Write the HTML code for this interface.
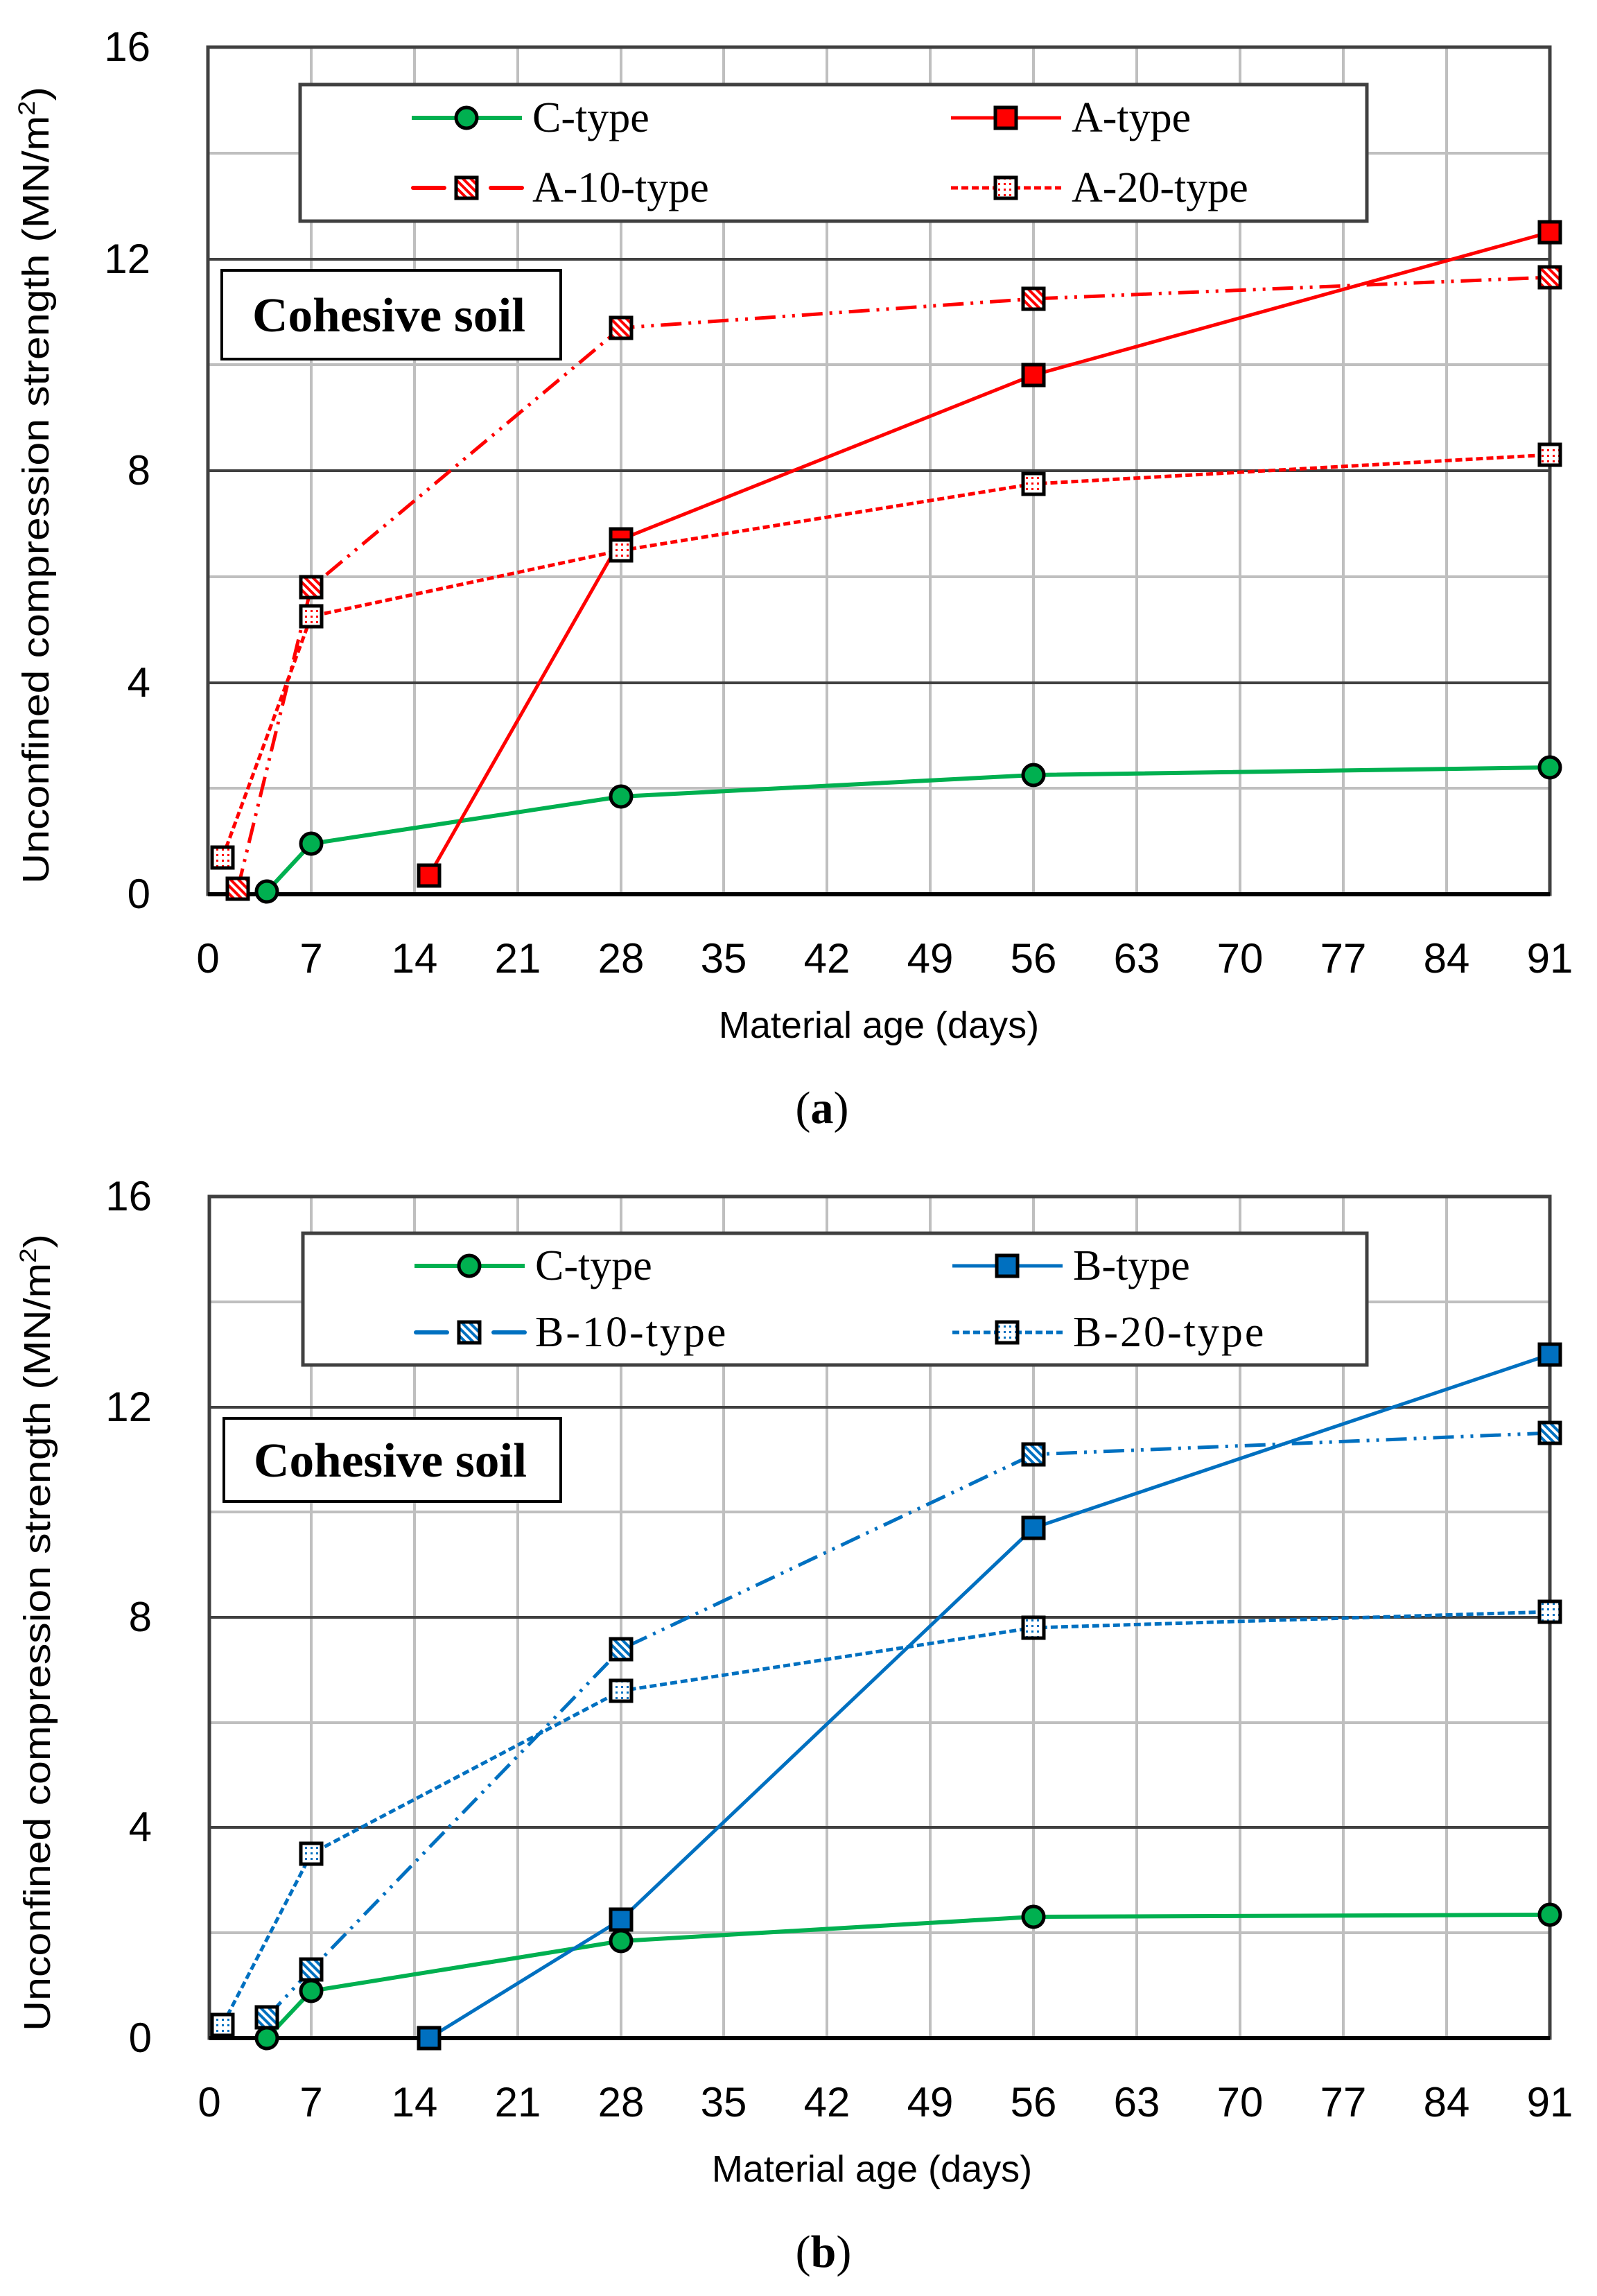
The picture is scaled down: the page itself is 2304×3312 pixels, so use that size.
<!DOCTYPE html>
<html><head><meta charset="utf-8"><style>html,body{margin:0;padding:0;background:#fff}svg{display:block}</style></head><body>
<svg xmlns="http://www.w3.org/2000/svg" width="2304" height="3312" viewBox="0 0 2304 3312">
<defs>
<pattern id="hr" width="8" height="8" patternUnits="userSpaceOnUse" patternTransform="rotate(-45)"><rect width="8" height="8" fill="#fff"/><rect width="4" height="8" fill="#ff0000"/></pattern>
<pattern id="hb" width="8" height="8" patternUnits="userSpaceOnUse" patternTransform="rotate(-45)"><rect width="8" height="8" fill="#fff"/><rect width="4" height="8" fill="#0070c0"/></pattern>
<pattern id="dr" width="8" height="8" patternUnits="userSpaceOnUse"><rect width="8" height="8" fill="#fff"/><rect width="3" height="3" fill="#ff0000"/></pattern>
<pattern id="db" width="8" height="8" patternUnits="userSpaceOnUse"><rect width="8" height="8" fill="#fff"/><rect width="3" height="3" fill="#0070c0"/></pattern>
</defs>
<style>
.g{stroke:#bfbfbf;stroke-width:4}
.d{stroke:#404040;stroke-width:4}
.t{font-family:"Liberation Sans Narrow","Liberation Sans",sans-serif;font-size:60px;fill:#000}
.lg{font-family:"Liberation Serif",serif;font-size:62px;fill:#000}
.ax{font-family:"Liberation Sans",sans-serif;font-size:54px;fill:#000}
.cap{font-family:"Liberation Serif",serif;font-size:66px;fill:#000}
.cs{font-family:"Liberation Serif",serif;font-weight:bold;font-size:70px;fill:#000}
</style>

<!-- ===== Chart A ===== -->
<g>
<g class="g">
<line x1="449" y1="68" x2="449" y2="1290"/><line x1="598" y1="68" x2="598" y2="1290"/><line x1="747" y1="68" x2="747" y2="1290"/><line x1="896" y1="68" x2="896" y2="1290"/><line x1="1044" y1="68" x2="1044" y2="1290"/><line x1="1193" y1="68" x2="1193" y2="1290"/><line x1="1342" y1="68" x2="1342" y2="1290"/><line x1="1491" y1="68" x2="1491" y2="1290"/><line x1="1640" y1="68" x2="1640" y2="1290"/><line x1="1789" y1="68" x2="1789" y2="1290"/><line x1="1938" y1="68" x2="1938" y2="1290"/><line x1="2087" y1="68" x2="2087" y2="1290"/>
<line x1="300" y1="1137" x2="2236" y2="1137"/><line x1="300" y1="832" x2="2236" y2="832"/><line x1="300" y1="526" x2="2236" y2="526"/><line x1="300" y1="221" x2="2236" y2="221"/>
</g>
<g class="d">
<line x1="300" y1="985" x2="2236" y2="985"/><line x1="300" y1="679" x2="2236" y2="679"/><line x1="300" y1="374" x2="2236" y2="374"/>
</g>
<rect x="300" y="68" width="1936" height="1222" fill="none" stroke="#404040" stroke-width="5"/>
<line x1="300" y1="1290" x2="2236" y2="1290" stroke="#000" stroke-width="6"/>

<rect x="433" y="122" width="1539" height="197" fill="#fff" stroke="#404040" stroke-width="5"/>
<rect x="320" y="390" width="489" height="128" fill="#fff" stroke="#000" stroke-width="4"/>
<text class="cs" x="364" y="478" textLength="394" lengthAdjust="spacingAndGlyphs">Cohesive soil</text>

<polyline points="385,1286 449,1217 896,1149 1491,1118 2236,1107" fill="none" stroke="#00b050" stroke-width="6"/>
<polyline points="619,1263 896,778 1491,541 2236,335" fill="none" stroke="#ff0000" stroke-width="5"/>
<polyline points="343,1282 449,847 896,473 1491,431 2236,400" fill="none" stroke="#ff0000" stroke-width="5" stroke-dasharray="30,10,4,10,4,10"/>
<polyline points="321,1237 449,889 896,794 1491,698 2236,656" fill="none" stroke="#ff0000" stroke-width="5" stroke-dasharray="10,5"/>
<g stroke="#000" stroke-width="5">
<circle cx="385" cy="1286" r="15" fill="#00b050"/><circle cx="449" cy="1217" r="15" fill="#00b050"/><circle cx="896" cy="1149" r="15" fill="#00b050"/><circle cx="1491" cy="1118" r="15" fill="#00b050"/><circle cx="2236" cy="1107" r="15" fill="#00b050"/>
<rect x="604" y="1248" width="30" height="30" fill="#ff0000"/><rect x="881" y="763" width="30" height="30" fill="#ff0000"/><rect x="1476" y="526" width="30" height="30" fill="#ff0000"/><rect x="2221" y="320" width="30" height="30" fill="#ff0000"/>
<rect x="328" y="1267" width="30" height="30" fill="url(#hr)"/><rect x="434" y="832" width="30" height="30" fill="url(#hr)"/><rect x="881" y="458" width="30" height="30" fill="url(#hr)"/><rect x="1476" y="416" width="30" height="30" fill="url(#hr)"/><rect x="2221" y="385" width="30" height="30" fill="url(#hr)"/>
<rect x="306" y="1222" width="30" height="30" fill="url(#dr)"/><rect x="434" y="874" width="30" height="30" fill="url(#dr)"/><rect x="881" y="779" width="30" height="30" fill="url(#dr)"/><rect x="1476" y="683" width="30" height="30" fill="url(#dr)"/><rect x="2221" y="641" width="30" height="30" fill="url(#dr)"/>
</g>

<line x1="594" y1="170" x2="753" y2="170" stroke="#00b050" stroke-width="6"/>
<circle cx="673" cy="170" r="15" fill="#00b050" stroke="#000" stroke-width="5"/>
<text class="lg" x="768" y="190">C-type</text>
<line x1="1372" y1="170" x2="1531" y2="170" stroke="#ff0000" stroke-width="5"/>
<rect x="1436" y="155" width="30" height="30" fill="#ff0000" stroke="#000" stroke-width="5"/>
<text class="lg" x="1546" y="190">A-type</text>
<line x1="596" y1="271" x2="641" y2="271" stroke="#ff0000" stroke-width="6" stroke-linecap="round"/>
<line x1="708" y1="271" x2="753" y2="271" stroke="#ff0000" stroke-width="6" stroke-linecap="round"/>
<rect x="658" y="256" width="30" height="30" fill="url(#hr)" stroke="#000" stroke-width="5"/>
<text class="lg" x="768" y="291">A-10-type</text>
<line x1="1372" y1="271" x2="1531" y2="271" stroke="#ff0000" stroke-width="5" stroke-dasharray="10,5"/>
<rect x="1436" y="256" width="30" height="30" fill="url(#dr)" stroke="#000" stroke-width="5"/>
<text class="lg" x="1546" y="291">A-20-type</text>

<g class="t" text-anchor="end">
<text x="217" y="88">16</text><text x="217" y="394">12</text><text x="217" y="699">8</text><text x="217" y="1005">4</text><text x="217" y="1310">0</text>
</g>
<g class="t" text-anchor="middle">
<text x="300" y="1403">0</text><text x="449" y="1403">7</text><text x="598" y="1403">14</text><text x="747" y="1403">21</text><text x="896" y="1403">28</text><text x="1044" y="1403">35</text><text x="1193" y="1403">42</text><text x="1342" y="1403">49</text><text x="1491" y="1403">56</text><text x="1640" y="1403">63</text><text x="1789" y="1403">70</text><text x="1938" y="1403">77</text><text x="2087" y="1403">84</text><text x="2236" y="1403">91</text>
</g>
<text class="ax" x="1268" y="1497" text-anchor="middle">Material age (days)</text>
<text class="ax" transform="translate(70,700) rotate(-90)" text-anchor="middle" textLength="1150" lengthAdjust="spacingAndGlyphs">Unconfined compression strength (MN/m<tspan font-size="34" dy="-20">2</tspan><tspan dy="20">)</tspan></text>
<text class="cap" x="1186" y="1620" text-anchor="middle">(<tspan font-weight="bold">a</tspan>)</text>
</g>

<!-- ===== Chart B ===== -->
<g>
<g class="g">
<line x1="449" y1="1726" x2="449" y2="2940"/><line x1="598" y1="1726" x2="598" y2="2940"/><line x1="747" y1="1726" x2="747" y2="2940"/><line x1="896" y1="1726" x2="896" y2="2940"/><line x1="1044" y1="1726" x2="1044" y2="2940"/><line x1="1193" y1="1726" x2="1193" y2="2940"/><line x1="1342" y1="1726" x2="1342" y2="2940"/><line x1="1491" y1="1726" x2="1491" y2="2940"/><line x1="1640" y1="1726" x2="1640" y2="2940"/><line x1="1789" y1="1726" x2="1789" y2="2940"/><line x1="1938" y1="1726" x2="1938" y2="2940"/><line x1="2087" y1="1726" x2="2087" y2="2940"/>
<line x1="302" y1="2788" x2="2236" y2="2788"/><line x1="302" y1="2485" x2="2236" y2="2485"/><line x1="302" y1="2181" x2="2236" y2="2181"/><line x1="302" y1="1878" x2="2236" y2="1878"/>
</g>
<g class="d">
<line x1="302" y1="2636" x2="2236" y2="2636"/><line x1="302" y1="2333" x2="2236" y2="2333"/><line x1="302" y1="2030" x2="2236" y2="2030"/>
</g>
<rect x="302" y="1726" width="1934" height="1214" fill="none" stroke="#404040" stroke-width="5"/>
<line x1="302" y1="2940" x2="2236" y2="2940" stroke="#000" stroke-width="6"/>

<rect x="437" y="1779" width="1535" height="190" fill="#fff" stroke="#404040" stroke-width="5"/>
<rect x="323" y="2046" width="486" height="120" fill="#fff" stroke="#000" stroke-width="4"/>
<text class="cs" x="366" y="2130" textLength="394" lengthAdjust="spacingAndGlyphs">Cohesive soil</text>

<polyline points="385,2940 449,2872 896,2800 1491,2765 2236,2762" fill="none" stroke="#00b050" stroke-width="6"/>
<polyline points="619,2940 896,2769 1491,2204 2236,1954" fill="none" stroke="#0070c0" stroke-width="5"/>
<polyline points="385,2910 449,2841 896,2379 1491,2098 2236,2067" fill="none" stroke="#0070c0" stroke-width="5" stroke-dasharray="30,10,4,10,4,10"/>
<polyline points="321,2921 449,2674 896,2439 1491,2348 2236,2325" fill="none" stroke="#0070c0" stroke-width="5" stroke-dasharray="10,5"/>
<g stroke="#000" stroke-width="5">
<circle cx="385" cy="2940" r="15" fill="#00b050"/><circle cx="449" cy="2872" r="15" fill="#00b050"/><circle cx="896" cy="2800" r="15" fill="#00b050"/><circle cx="1491" cy="2765" r="15" fill="#00b050"/><circle cx="2236" cy="2762" r="15" fill="#00b050"/>
<rect x="604" y="2925" width="30" height="30" fill="#0070c0"/><rect x="881" y="2754" width="30" height="30" fill="#0070c0"/><rect x="1476" y="2189" width="30" height="30" fill="#0070c0"/><rect x="2221" y="1939" width="30" height="30" fill="#0070c0"/>
<rect x="370" y="2895" width="30" height="30" fill="url(#hb)"/><rect x="434" y="2826" width="30" height="30" fill="url(#hb)"/><rect x="881" y="2364" width="30" height="30" fill="url(#hb)"/><rect x="1476" y="2083" width="30" height="30" fill="url(#hb)"/><rect x="2221" y="2052" width="30" height="30" fill="url(#hb)"/>
<rect x="306" y="2906" width="30" height="30" fill="url(#db)"/><rect x="434" y="2659" width="30" height="30" fill="url(#db)"/><rect x="881" y="2424" width="30" height="30" fill="url(#db)"/><rect x="1476" y="2333" width="30" height="30" fill="url(#db)"/><rect x="2221" y="2310" width="30" height="30" fill="url(#db)"/>
</g>

<line x1="598" y1="1826" x2="757" y2="1826" stroke="#00b050" stroke-width="6"/>
<circle cx="677" cy="1826" r="15" fill="#00b050" stroke="#000" stroke-width="5"/>
<text class="lg" x="772" y="1846">C-type</text>
<line x1="1374" y1="1826" x2="1533" y2="1826" stroke="#0070c0" stroke-width="5"/>
<rect x="1438" y="1811" width="30" height="30" fill="#0070c0" stroke="#000" stroke-width="5"/>
<text class="lg" x="1548" y="1846">B-type</text>
<line x1="600" y1="1922" x2="645" y2="1922" stroke="#0070c0" stroke-width="6" stroke-linecap="round"/>
<line x1="712" y1="1922" x2="757" y2="1922" stroke="#0070c0" stroke-width="6" stroke-linecap="round"/>
<rect x="662" y="1907" width="30" height="30" fill="url(#hb)" stroke="#000" stroke-width="5"/>
<text class="lg" x="772" y="1942" letter-spacing="3">B-10-type</text>
<line x1="1374" y1="1922" x2="1533" y2="1922" stroke="#0070c0" stroke-width="5" stroke-dasharray="10,5"/>
<rect x="1438" y="1907" width="30" height="30" fill="url(#db)" stroke="#000" stroke-width="5"/>
<text class="lg" x="1548" y="1942" letter-spacing="3">B-20-type</text>

<g class="t" text-anchor="end">
<text x="219" y="1746">16</text><text x="219" y="2050">12</text><text x="219" y="2353">8</text><text x="219" y="2656">4</text><text x="219" y="2960">0</text>
</g>
<g class="t" text-anchor="middle">
<text x="302" y="3053">0</text><text x="449" y="3053">7</text><text x="598" y="3053">14</text><text x="747" y="3053">21</text><text x="896" y="3053">28</text><text x="1044" y="3053">35</text><text x="1193" y="3053">42</text><text x="1342" y="3053">49</text><text x="1491" y="3053">56</text><text x="1640" y="3053">63</text><text x="1789" y="3053">70</text><text x="1938" y="3053">77</text><text x="2087" y="3053">84</text><text x="2236" y="3053">91</text>
</g>
<text class="ax" x="1258" y="3147" text-anchor="middle">Material age (days)</text>
<text class="ax" transform="translate(72,2355) rotate(-90)" text-anchor="middle" textLength="1150" lengthAdjust="spacingAndGlyphs">Unconfined compression strength (MN/m<tspan font-size="34" dy="-20">2</tspan><tspan dy="20">)</tspan></text>
<text class="cap" x="1188" y="3270" text-anchor="middle">(<tspan font-weight="bold">b</tspan>)</text>
</g>
</svg>
</body></html>
